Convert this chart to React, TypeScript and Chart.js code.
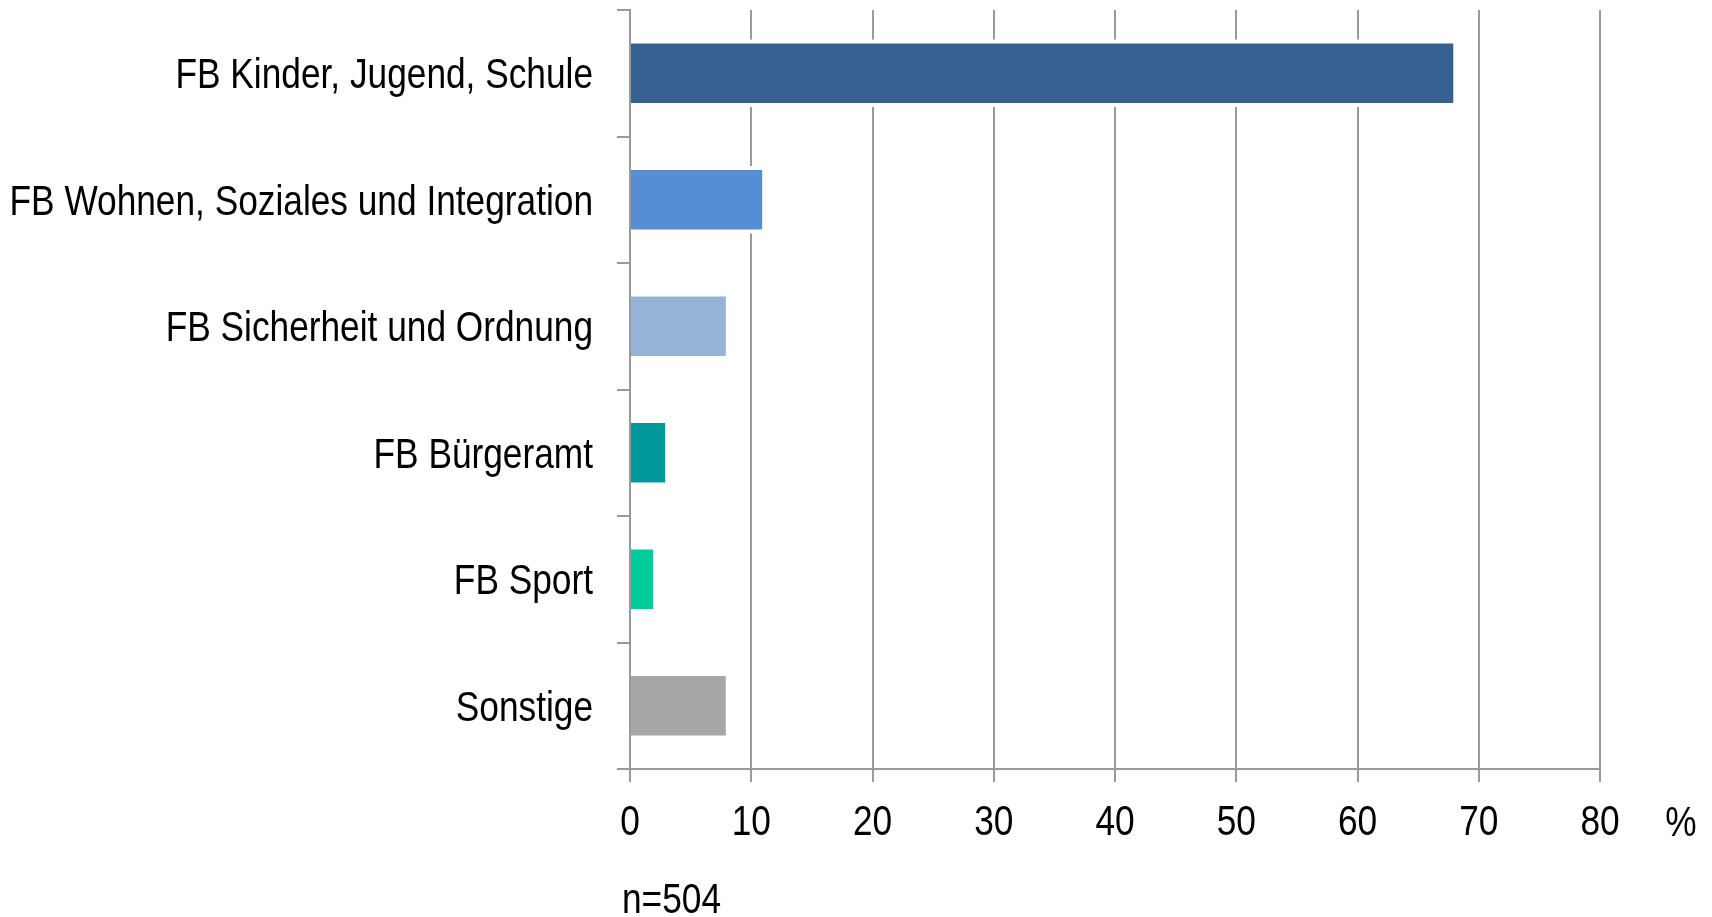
import React, { useEffect, useRef } from "react";
import { Chart, registerables } from "chart.js";

Chart.register(...registerables);

const categories = [
  "FB Kinder, Jugend, Schule",
  "FB Wohnen, Soziales und Integration",
  "FB Sicherheit und Ordnung",
  "FB Bürgeramt",
  "FB Sport",
  "Sonstige",
];
const values = [67.9, 10.9, 7.9, 2.9, 1.9, 7.9];
const barColors = ["#36608F", "#558ED5", "#95B3D7", "#009999", "#00CC99", "#A6A6A6"];
const xTicks = [0, 10, 20, 30, 40, 50, 60, 70, 80];
const unitLabel = "%";
const noteLabel = "n=504";

const FONT = "'Liberation Sans', Arial, sans-serif";
const FONT_SIZE = 43;
const NARROW = 0.82;
const GRID = "#999999";

function narrowText(ctx: any, text: string, x: number, y: number, align: string) {
  ctx.save();
  ctx.translate(x, y);
  ctx.scale(NARROW, 1);
  ctx.textAlign = align;
  ctx.fillText(text, 0, 0);
  ctx.restore();
}

const extrasPlugin = {
  id: "extras",
  beforeDatasetsDraw(chart: any) {
    const ctx = chart.ctx;
    const meta = chart.getDatasetMeta(0);
    ctx.save();
    ctx.fillStyle = "#ffffff";
    meta.data.forEach((bar: any) => {
      const { x, y, base, height } = bar.getProps(["x", "y", "base", "height"], true);
      ctx.fillRect(base + 2, y - height / 2 - 4, x - base + 2, height + 8);
    });
    ctx.restore();
  },
  afterDraw(chart: any) {
    const ctx = chart.ctx;
    const xs = chart.scales.x;
    const ys = chart.scales.y;
    ctx.save();
    ctx.fillStyle = "#000000";
    ctx.font = `${FONT_SIZE}px ${FONT}`;
    ctx.textBaseline = "alphabetic";
    categories.forEach((label, i) => {
      narrowText(ctx, label, ys.right - 37, ys.getPixelForValue(i) + 15, "right");
    });
    xTicks.forEach((v) => {
      narrowText(ctx, String(v), xs.getPixelForValue(v), xs.top + 66, "center");
    });
    narrowText(ctx, unitLabel, xs.right + 81, xs.top + 67, "center");
    narrowText(ctx, noteLabel, xs.left - 8, xs.top + 144, "left");
    ctx.restore();
  },
};

export default function App() {
  const ref = useRef<HTMLCanvasElement | null>(null);
  useEffect(() => {
    if (!ref.current) return;
    const chart = new Chart(ref.current, {
      type: "bar",
      data: {
        labels: categories,
        datasets: [
          {
            data: values,
            backgroundColor: barColors,
            borderWidth: 0,
            barPercentage: 0.47,
            categoryPercentage: 1,
          },
        ],
      },
      options: {
        indexAxis: "y",
        animation: false,
        responsive: true,
        maintainAspectRatio: false,
        layout: { padding: { top: 10, right: 112, left: 0, bottom: 0 } },
        plugins: { legend: { display: false }, tooltip: { enabled: false } },
        scales: {
          x: {
            min: 0,
            max: 80,
            afterBuildTicks: (scale: any) => {
              scale.ticks = xTicks.map((v) => ({ value: v }));
            },
            afterFit: (scale: any) => {
              scale.height = 148;
              scale.paddingLeft = 0;
              scale.paddingRight = 0;
            },
            grid: {
              color: GRID,
              lineWidth: 2,
              drawOnChartArea: true,
              drawTicks: true,
              tickLength: 13,
            },
            border: { display: true, color: GRID, width: 2 },
            ticks: {
              color: "rgba(0,0,0,0)",
              font: { family: FONT, size: 42 },
              padding: 10,
              maxRotation: 0,
            },
          },
          y: {
            afterFit: (scale: any) => {
              scale.width = 630;
              scale.paddingTop = 0;
              scale.paddingBottom = 0;
            },
            grid: {
              color: GRID,
              lineWidth: 2,
              drawOnChartArea: false,
              drawTicks: true,
              tickLength: 13,
              offset: true,
            },
            border: { display: true, color: GRID, width: 2 },
            ticks: {
              color: "rgba(0,0,0,0)",
              font: { family: FONT, size: 20 },
              padding: 24,
            },
          },
        },
      },
      plugins: [extrasPlugin],
    });
    return () => chart.destroy();
  }, []);
  return (
    <div style={{ position: "absolute", left: 0, top: 0, width: 1712, height: 917, background: "#ffffff" }}>
      <canvas ref={ref} />
    </div>
  );
}
